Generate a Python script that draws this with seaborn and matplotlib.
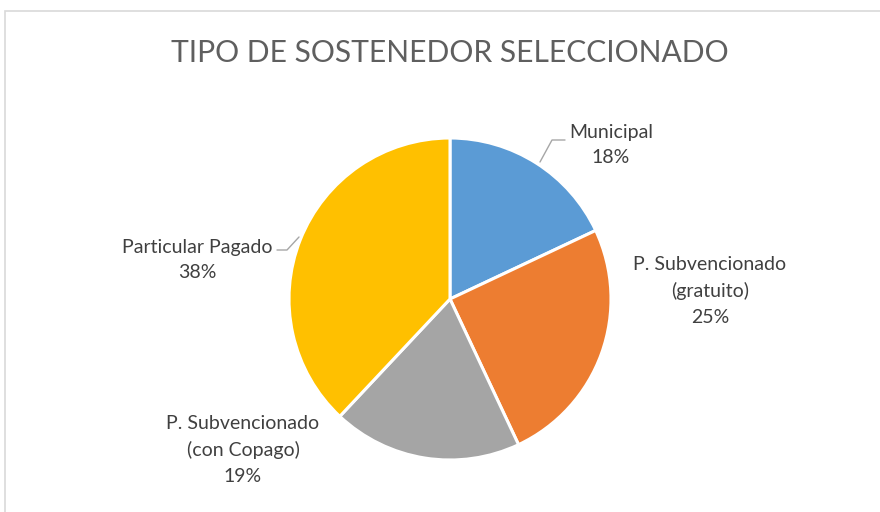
import matplotlib
matplotlib.use("Agg")
import matplotlib.pyplot as plt
from matplotlib.patches import Rectangle
import seaborn as sns

# datos
categorias = ["Municipal", "P. Subvencionado\n(gratuito)", "P. Subvencionado\n(con Copago)", "Particular Pagado"]
porcentajes = [18, 25, 19, 38]
colores = ["#5B9BD5", "#ED7D31", "#A5A5A5", "#FFC000"]
titulo = "TIPO DE SOSTENEDOR SELECCIONADO"

sns.set_theme(style="white")
plt.rcParams["font.family"] = ["Lato", "DejaVu Sans"]

W, H = 880, 512
fig = plt.figure(figsize=(W / 100, H / 100), dpi=100)
ax = fig.add_axes([0, 0, 1, 1])

centro = (450, H - 299)
radio = 161
ax.pie(porcentajes, colors=colores, startangle=90, counterclock=False,
       center=centro, radius=radio,
       wedgeprops=dict(edgecolor="white", linewidth=2.2))

# pie() fija sus propios límites, se reponen después
ax.set_xlim(0, W)
ax.set_ylim(0, H)
ax.set_aspect("equal")
ax.axis("off")

# marco del gráfico (se sale por la derecha y abajo)
fig.patches.append(Rectangle((4.5 / W, -0.1), 1.2, (H - 10.5) / H + 0.1,
                             transform=fig.transFigure, fill=False,
                             edgecolor="#D9D9D9", linewidth=1.2))

ax.text(450, H - 53, titulo, ha="center", va="center", fontsize=21.6,
        color="#5f5f5f", fontweight="normal")

# etiquetas
pos_etiquetas = [(611, 145), (710, 291), (243, 450), (197, 260)]
for cat, pct, (x, y) in zip(categorias, porcentajes, pos_etiquetas):
    ax.text(x, H - y, f"{cat}\n{pct}%", ha="center", va="center",
            fontsize=14, color="#404040", linespacing=1.6)

# líneas guía
ax.plot([540, 552, 565], [H - 162, H - 140, H - 140], color="#A6A6A6", lw=1)
ax.plot([277, 287, 299], [H - 250, H - 250, H - 237], color="#A6A6A6", lw=1)

fig.savefig("out.png", dpi=100)
